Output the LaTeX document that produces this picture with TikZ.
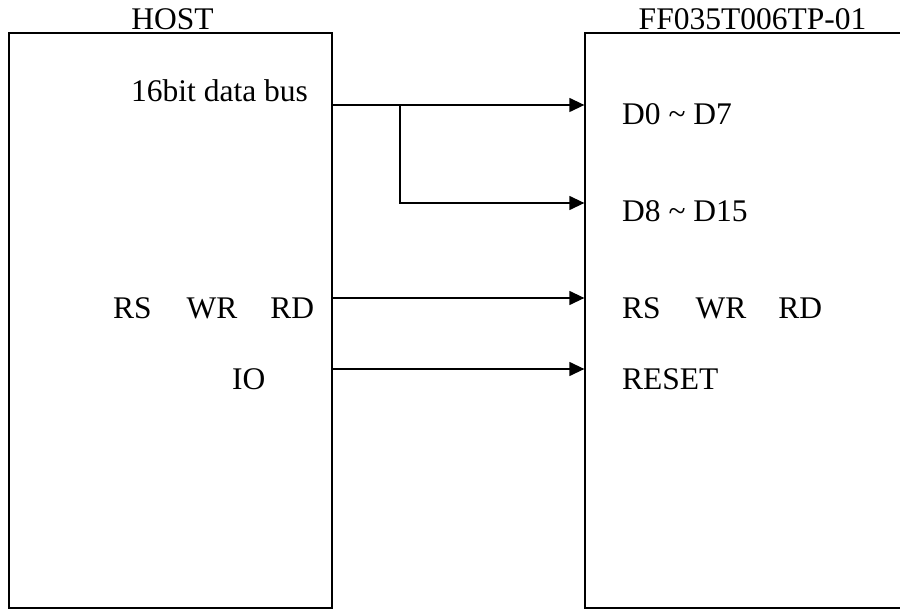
\documentclass[tikz,border=0pt]{standalone}
\usepackage{fontspec}
\setmainfont{Liberation Serif}
\usetikzlibrary{arrows.meta}
\tikzset{blk/.style={draw,line width=1.3pt,inner sep=0pt},
  sig/.style={line width=1.3pt,-{Triangle[length=15pt,width=14pt]}},
  txt/.style={inner sep=0pt,anchor=base west,font=\fontsize{31.5}{36}\selectfont}}
\begin{document}
\begin{tikzpicture}[x=1pt,y=-1pt]
        \clip (0,0) rectangle (900,609);
        \node[blk,minimum width=323pt,minimum height=575pt] (host) at (170.5,320.5) {};
        \node[blk,minimum width=340pt,minimum height=575pt] (lcd) at (755,320.5) {};
        \node[txt,anchor=base] (hostname) at (172.5,30) {HOST};
        \node[txt,anchor=base] (lcdname) at (752.5,30) {FF035T006TP-01};
        \node[txt] (bus) at (131,102) {16bit data bus};
        \node[txt] (ctlL) at (113,319) {RS\hspace{35pt}WR\hspace{33pt}RD};
        \node[txt] (io) at (232,390) {IO};
        \node[txt] (dlo) at (622,125) {D0 \textasciitilde\ D7};
        \node[txt] (dhi) at (622,222) {D8 \textasciitilde\ D15};
        \node[txt] (ctlR) at (622,319) {RS\hspace{35pt}WR\hspace{32pt}RD};
        \node[txt] (rst) at (622,390) {RESET};
        \coordinate (busrow) at (0,105); \coordinate (hirow) at (0,203);
        \coordinate (ctlrow) at (0,298); \coordinate (iorow) at (0,369);
        \coordinate (tap) at (400,105);
        \draw[sig] (host.east |- busrow) -- (lcd.west |- busrow);
        \draw[sig] (tap) |- (lcd.west |- hirow);
        \draw[sig] (host.east |- ctlrow) -- (lcd.west |- ctlrow);
        \draw[sig] (host.east |- iorow) -- (lcd.west |- iorow);
\end{tikzpicture}
\end{document}
